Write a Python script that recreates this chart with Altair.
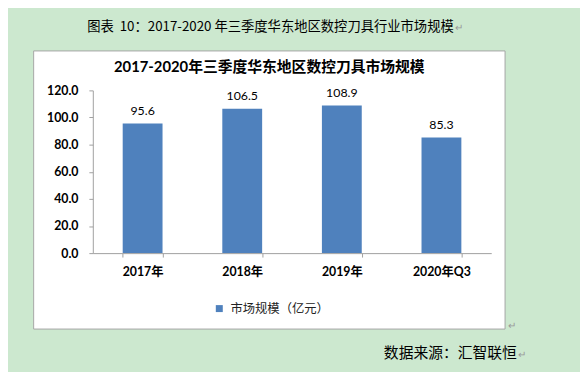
import altair as alt
import pandas as pd

# ---- data ----
categories = ["2017年", "2018年", "2019年", "2020年Q3"]
values = [95.6, 106.5, 108.9, 85.3]
series_name = "市场规模（亿元）"
y_ticks = [0, 20, 40, 60, 80, 100, 120]
chart_title = ["2017-2020年三季度华东地区数控刀具市场规模"]
doc_caption = ["图表\u00a0\u00a010：2017-2020 年三季度华东地区数控刀具行业市场规模"]
source_note = ["数据来源：汇智联恒"]
para_mark = ["↵"]

df = pd.DataFrame({"year": categories, "value": values, "series": [series_name] * len(categories)})
one = pd.DataFrame({"t": [0]})

NUM_FONT = "Lato, Noto Sans CJK SC"
CJK_FONT = "Noto Sans CJK SC"
BAR = "#4f81bd"
GRID = "#a0a0a0"

frame = alt.Chart(one).mark_rect(fill="white", stroke="#a6a6a6", strokeWidth=1).encode(
    x=alt.value(-60), x2=alt.value(418), y=alt.value(-40), y2=alt.value(242)
)

base = alt.Chart(df)

bars = base.mark_bar().encode(
    x=alt.X(
        "year:N",
        sort=categories,
        scale=alt.Scale(paddingInner=0.6, paddingOuter=0.3),
        axis=alt.Axis(
            title=None, labelAngle=0, tickBand="extent", tickSize=4,
            labelPadding=9, labelFont=NUM_FONT, labelFontSize=12.5,
            labelFontWeight="bold", labelColor="black",
            domainColor=GRID, tickColor=GRID, zindex=1,
        ),
    ),
    y=alt.Y(
        "value:Q",
        scale=alt.Scale(domain=[0, 120]),
        axis=alt.Axis(
            title=None, values=y_ticks, tickCount=len(y_ticks), format=".1f", grid=False, tickSize=4,
            labelPadding=11, labelFont=NUM_FONT, labelFontSize=12.5,
            labelFontWeight="bold", labelColor="black", labelOverlap=False,
            domainColor=GRID, tickColor=GRID, zindex=1,
        ),
    ),
    color=alt.Color(
        "series:N",
        scale=alt.Scale(range=[BAR]),
        legend=alt.Legend(
            title=None, orient="none", legendX=122, legendY=215,
            symbolType="square", symbolSize=50, symbolStrokeWidth=0,
            labelFont=CJK_FONT, labelFontSize=12.5, labelColor="#222222",
            labelOffset=5, padding=0, zindex=1,
        ),
    ),
)

labels = base.mark_text(
    font=NUM_FONT, fontSize=12.5, color="black", baseline="middle", dy=-13
).encode(
    x=alt.X("year:N", sort=categories),
    y="value:Q",
    text=alt.Text("value:Q", format=".1f"),
)

title_t = alt.Chart(pd.DataFrame({"t": chart_title})).mark_text(
    font=NUM_FONT, fontSize=15, fontWeight="bold", color="black", align="center", baseline="middle"
).encode(x=alt.value(179), y=alt.value(-24), text="t:N")

caption_t = alt.Chart(pd.DataFrame({"t": doc_caption})).mark_text(
    font=CJK_FONT, fontSize=13.5, color="black", align="right", baseline="middle"
).encode(x=alt.value(366), y=alt.value(-64), text="t:N")

caption_mark = alt.Chart(pd.DataFrame({"t": para_mark})).mark_text(
    font=CJK_FONT, fontSize=10, color="#999999", align="left", baseline="middle"
).encode(x=alt.value(367), y=alt.value(-63), text="t:N")

source_t = alt.Chart(pd.DataFrame({"t": source_note})).mark_text(
    font=CJK_FONT, fontSize=15, color="black", align="right", baseline="middle"
).encode(x=alt.value(430), y=alt.value(266), text="t:N")

source_mark = alt.Chart(pd.DataFrame({"t": para_mark})).mark_text(
    font=CJK_FONT, fontSize=10, color="#999999", align="left", baseline="middle"
).encode(x=alt.value(431), y=alt.value(268), text="t:N")

box_mark = alt.Chart(pd.DataFrame({"t": para_mark})).mark_text(
    font=CJK_FONT, fontSize=10, color="#999999", align="left", baseline="middle"
).encode(x=alt.value(421), y=alt.value(239), text="t:N")

chart = alt.layer(
    frame, bars, labels, title_t, caption_t, caption_mark, source_t, source_mark, box_mark
).properties(
    width=404,
    height=165,
    autosize=alt.AutoSizeParams(type="none"),
    padding={"left": 86, "top": 81, "right": 90, "bottom": 118},
    background="#cce8cf",
).configure_view(stroke=None)

chart.save("out.html", embed_options={"renderer": "svg", "actions": False})
